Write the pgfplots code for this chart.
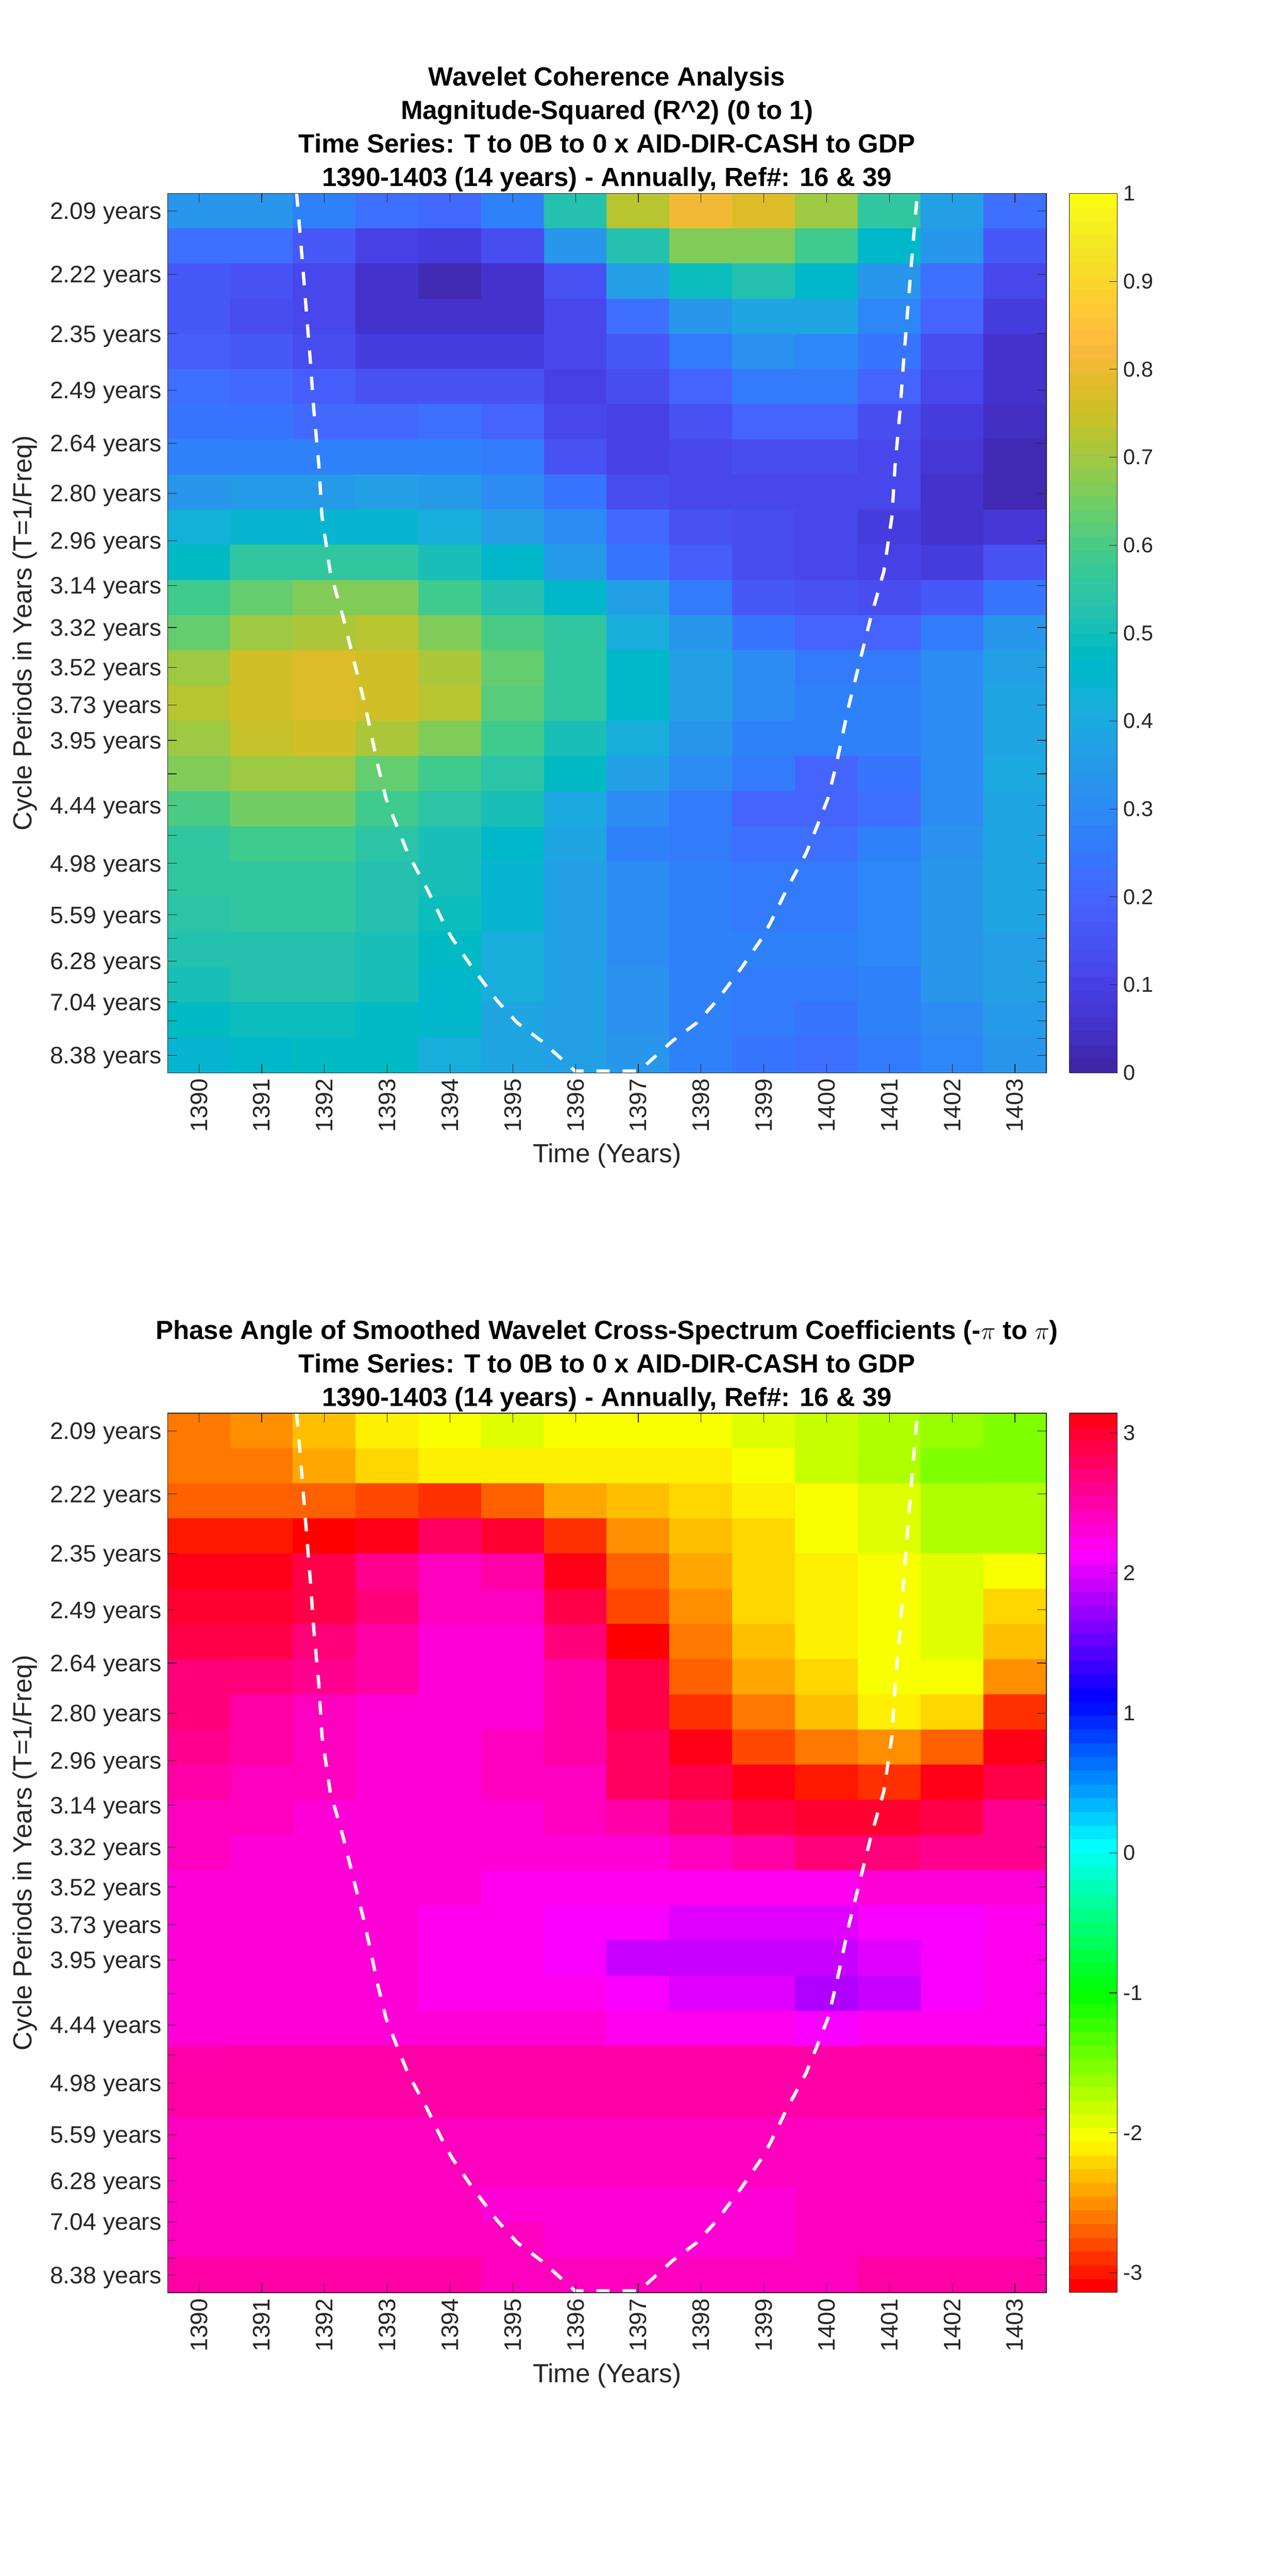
\documentclass[border=0pt]{standalone}
\usepackage{fontspec}
\setmainfont{Liberation Sans}
\usepackage{pgfplots}
\pgfplotsset{compat=1.18}
\usepackage{pgfplotstable}
\definecolor{axc}{gray}{0.15}
\pgfplotsset{
 colormap={parula64}{
rgb=(0.2422,0.1504,0.6603) rgb=(0.2504,0.1650,0.7076) rgb=(0.2578,0.1818,0.7511) rgb=(0.2647,0.1978,0.7952)
rgb=(0.2706,0.2147,0.8364) rgb=(0.2751,0.2342,0.8710) rgb=(0.2783,0.2559,0.8991) rgb=(0.2803,0.2782,0.9221)
rgb=(0.2813,0.3006,0.9414) rgb=(0.2810,0.3228,0.9579) rgb=(0.2795,0.3447,0.9717) rgb=(0.2760,0.3667,0.9829)
rgb=(0.2699,0.3892,0.9906) rgb=(0.2602,0.4123,0.9952) rgb=(0.2440,0.4358,0.9988) rgb=(0.2206,0.4603,0.9973)
rgb=(0.1963,0.4847,0.9892) rgb=(0.1834,0.5074,0.9798) rgb=(0.1786,0.5289,0.9682) rgb=(0.1764,0.5499,0.9520)
rgb=(0.1687,0.5703,0.9359) rgb=(0.1540,0.5902,0.9218) rgb=(0.1460,0.6091,0.9079) rgb=(0.1380,0.6276,0.8973)
rgb=(0.1248,0.6459,0.8883) rgb=(0.1113,0.6635,0.8763) rgb=(0.0952,0.6798,0.8598) rgb=(0.0689,0.6948,0.8394)
rgb=(0.0297,0.7082,0.8163) rgb=(0.0036,0.7203,0.7917) rgb=(0.0067,0.7312,0.7660) rgb=(0.0433,0.7411,0.7394)
rgb=(0.0964,0.7500,0.7120) rgb=(0.1408,0.7584,0.6842) rgb=(0.1717,0.7670,0.6554) rgb=(0.1938,0.7758,0.6251)
rgb=(0.2161,0.7843,0.5923) rgb=(0.2470,0.7918,0.5567) rgb=(0.2906,0.7973,0.5188) rgb=(0.3406,0.8008,0.4789)
rgb=(0.3909,0.8029,0.4354) rgb=(0.4456,0.8024,0.3909) rgb=(0.5044,0.7993,0.3480) rgb=(0.5616,0.7942,0.3045)
rgb=(0.6174,0.7876,0.2612) rgb=(0.6720,0.7793,0.2227) rgb=(0.7242,0.7698,0.1910) rgb=(0.7738,0.7598,0.1646)
rgb=(0.8203,0.7498,0.1535) rgb=(0.8634,0.7406,0.1596) rgb=(0.9035,0.7330,0.1774) rgb=(0.9393,0.7288,0.2100)
rgb=(0.9728,0.7298,0.2394) rgb=(0.9956,0.7434,0.2371) rgb=(0.9970,0.7659,0.2199) rgb=(0.9952,0.7893,0.2028)
rgb=(0.9892,0.8136,0.1885) rgb=(0.9786,0.8386,0.1766) rgb=(0.9676,0.8639,0.1643) rgb=(0.9610,0.8890,0.1537)
rgb=(0.9597,0.9135,0.1423) rgb=(0.9628,0.9373,0.1265) rgb=(0.9691,0.9606,0.1064) rgb=(0.9769,0.9839,0.0805)
 },
 colormap={hsvbase}{rgb(0pt)=(1,0,0) rgb(10.6667pt)=(1,1,0) rgb(21.3333pt)=(0,1,0) rgb(32pt)=(0,1,1) rgb(42.6667pt)=(0,0,1) rgb(53.3333pt)=(1,0,1) rgb(63pt)=(1,0,0.0938)},
 colormap={hsv64}{samples of colormap=(64 of hsvbase)},
 wavelet/.style={
  scale only axis, width=511.9pt, height=512.2pt, anchor=south west,
  xmin=1389.5, xmax=1403.5, ymin=0, ymax=25, y dir=reverse,
  axis on top, enlargelimits=false, colormap access=piecewise constant,
  tick align=inside, xtick pos=both, ytick pos=both, major tick length=5.3pt,
  axis line style={color=axc,line width=0.4pt}, tick style={color=axc,line width=0.35pt},
  xtick={1390,...,1403},
  xticklabels={1390,1391,1392,1393,1394,1395,1396,1397,1398,1399,1400,1401,1402,1403},
  xticklabel pos=lower, yticklabel pos=left,
  xticklabel style={rotate=90,anchor=east,font=\fontsize{13.9}{16}\selectfont,text=axc},
  yticklabel style={font=\fontsize{13.9}{16}\selectfont,text=axc,yshift=-1.5pt},
  ytick={0.5,2.296,3.991,5.591,7.102,8.527,9.873,11.143,12.341,13.473,14.541,15.549,16.5,17.398,18.246,19.046,19.801,20.513,21.186,21.821,22.421,22.986,23.52,24.024,24.5},
  yticklabels={2.09 years,2.22 years,2.35 years,2.49 years,2.64 years,2.80 years,2.96 years,3.14 years,3.32 years,3.52 years,3.73 years,3.95 years,{},4.44 years,{},4.98 years,{},5.59 years,{},6.28 years,{},7.04 years,{},{},8.38 years},
  xlabel={Time (Years)}, ylabel={Cycle Periods in Years (T=1/Freq)},
  xlabel style={at={(axis description cs:0.5,-0.0945)},anchor=center,font=\fontsize{15.3}{18}\selectfont,text=axc},
  ylabel style={at={(axis description cs:-0.1626,0.5)},anchor=center,rotate=0,font=\fontsize{15.3}{18}\selectfont,text=axc},
  title style={align=center,font=\fontsize{15.3}{19.5}\selectfont\bfseries,text=black,yshift=-8.6pt},
  colorbar, colorbar shift/.style={},
 },
 wcb/.style={
  at={(parent axis.north east)}, anchor=north west, xshift=13.44pt,
  width=27.84pt, height=512.2pt, tick align=inside, ytick pos=right, yticklabel pos=right,
  major tick length=4.8pt, axis line style={color=axc,line width=0.4pt}, tick style={color=axc,line width=0.35pt},
  yticklabel style={font=\fontsize{12.5}{15}\selectfont,text=axc},
 },
 coi/.style={white,line width=1.9pt,dash pattern=on 7.8pt off 7.5pt},
}
\pgfplotstableread{
x y
1391.556 0
1391.62 1.33
1391.71 3.32
1391.78 4.89
1391.83 6.15
1391.91 7.72
1391.96 9.18
1392.09 10.75
1392.30 12.07
1392.46 13.22
1392.65 14.58
1392.85 16.26
1392.98 17.2
1393.14 17.93
1393.33 18.77
1393.63 19.76
1393.90 20.75
1394.03 21.17
1394.35 22.0
1394.75 22.95
1395.07 23.58
1395.46 24.1
1395.99 24.95
1397.01 24.95
1397.54 24.1
1397.93 23.58
1398.25 22.95
1398.65 22.0
1398.97 21.17
1399.10 20.75
1399.37 19.76
1399.67 18.77
1399.86 17.93
1400.02 17.2
1400.15 16.26
1400.35 14.58
1400.54 13.22
1400.70 12.07
1400.91 10.75
1401.04 9.18
1401.09 7.72
1401.17 6.15
1401.22 4.89
1401.29 3.32
1401.38 1.33
1401.444 0
}\coitable
\begin{document}
\begin{tikzpicture}
\path[use as bounding box] (0,0) rectangle (750pt,1500.48pt);
\begin{axis}[wavelet, at={(97.6pt,875.6pt)},
 point meta min=0, point meta max=1, colormap name=parula64,
 colorbar style={wcb, ytick={0,0.1,...,1}, yticklabels={0,0.1,0.2,0.3,0.4,0.5,0.6,0.7,0.8,0.9,1}},
 title={Wavelet Coherence Analysis\\Magnitude-Squared (R\textasciicircum 2) (0 to 1)\\Time Series: T to 0B to 0 x AID-DIR-CASH to GDP\\1390-1403 (14 years) - Annually, Ref\#: 16 \& 39}]
\addplot[matrix plot*, mesh/cols=14, mesh/rows=25, point meta=explicit] table[row sep=\\, header=false, x expr={1390+round(mod(\coordindex+0.5,14)-0.5)}, y expr={floor((\coordindex+0.5)/14)+0.5}, meta index=0]{
.33\\.33\\.28\\.23\\.21\\.28\\.52\\.72\\.80\\.77\\.70\\.55\\.37\\.22\\
.22\\.22\\.17\\.10\\.08\\.13\\.33\\.53\\.67\\.67\\.58\\.46\\.33\\.16\\
.17\\.15\\.11\\.05\\.03\\.05\\.15\\.36\\.49\\.53\\.46\\.34\\.23\\.11\\
.16\\.14\\.11\\.06\\.06\\.06\\.12\\.23\\.34\\.38\\.38\\.29\\.19\\.09\\
.18\\.16\\.13\\.09\\.09\\.09\\.11\\.17\\.26\\.32\\.29\\.24\\.14\\.05\\
.22\\.21\\.18\\.15\\.15\\.15\\.10\\.13\\.19\\.25\\.25\\.20\\.12\\.06\\
.24\\.24\\.21\\.21\\.23\\.19\\.12\\.10\\.15\\.19\\.19\\.14\\.08\\.04\\
.28\\.28\\.27\\.27\\.27\\.25\\.15\\.10\\.12\\.14\\.14\\.11\\.07\\.02\\
.33\\.35\\.35\\.36\\.35\\.31\\.24\\.13\\.12\\.12\\.12\\.11\\.05\\.03\\
.43\\.44\\.44\\.44\\.42\\.37\\.30\\.21\\.15\\.13\\.11\\.09\\.05\\.07\\
.48\\.55\\.56\\.56\\.50\\.46\\.35\\.24\\.18\\.14\\.12\\.10\\.09\\.15\\
.58\\.64\\.66\\.66\\.58\\.53\\.46\\.36\\.25\\.17\\.15\\.13\\.17\\.24\\
.63\\.70\\.71\\.72\\.67\\.60\\.55\\.42\\.33\\.24\\.19\\.19\\.26\\.33\\
.70\\.76\\.78\\.75\\.71\\.64\\.56\\.46\\.36\\.30\\.26\\.26\\.30\\.37\\
.72\\.76\\.77\\.76\\.72\\.62\\.55\\.46\\.37\\.31\\.27\\.27\\.31\\.38\\
.70\\.74\\.75\\.71\\.66\\.58\\.51\\.41\\.34\\.28\\.28\\.27\\.31\\.39\\
.67\\.70\\.70\\.63\\.59\\.54\\.47\\.36\\.30\\.25\\.20\\.24\\.30\\.40\\
.60\\.65\\.65\\.58\\.54\\.50\\.40\\.31\\.25\\.20\\.20\\.22\\.30\\.38\\
.56\\.58\\.58\\.54\\.51\\.46\\.38\\.28\\.26\\.22\\.23\\.27\\.32\\.38\\
.55\\.56\\.56\\.52\\.50\\.45\\.37\\.30\\.27\\.25\\.26\\.29\\.33\\.39\\
.54\\.55\\.55\\.52\\.49\\.45\\.37\\.31\\.28\\.26\\.26\\.29\\.33\\.39\\
.52\\.53\\.53\\.51\\.48\\.42\\.37\\.31\\.28\\.27\\.27\\.29\\.33\\.37\\
.50\\.52\\.52\\.50\\.46\\.41\\.37\\.32\\.27\\.25\\.25\\.28\\.34\\.36\\
.48\\.49\\.49\\.48\\.46\\.39\\.36\\.32\\.28\\.25\\.24\\.27\\.30\\.35\\
.45\\.46\\.47\\.48\\.42\\.39\\.37\\.33\\.28\\.24\\.23\\.26\\.29\\.33\\
};
\addplot[coi] table {\coitable};
\end{axis}
\begin{axis}[wavelet, at={(97.6pt,165.1pt)},
 point meta min=-3.1416, point meta max=3.1416, colormap name=hsv64,
 colorbar style={wcb, ytick={-3,-2,-1,0,1,2,3}, yticklabels={-3,-2,-1,0,1,2,3}},
 title={Phase Angle of Smoothed Wavelet Cross-Spectrum Coefficients (-$\pi$ to $\pi$)\\Time Series: T to 0B to 0 x AID-DIR-CASH to GDP\\1390-1403 (14 years) - Annually, Ref\#: 16 \& 39}]
\addplot[matrix plot*, mesh/cols=14, mesh/rows=25, point meta=explicit] table[row sep=\\, header=false, x expr={1390+round(mod(\coordindex+0.5,14)-0.5)}, y expr={floor((\coordindex+0.5)/14)+0.5}, meta index=0]{
-2.57\\-2.48\\-2.31\\-2.13\\-2.0\\-1.9\\-2.0\\-2.0\\-2.0\\-1.87\\-1.81\\-1.73\\-1.59\\-1.52\\
-2.57\\-2.57\\-2.36\\-2.22\\-2.1\\-2.1\\-2.1\\-2.1\\-2.1\\-1.99\\-1.83\\-1.73\\-1.56\\-1.52\\
-2.71\\-2.71\\-2.67\\-2.78\\-2.86\\-2.67\\-2.39\\-2.31\\-2.22\\-2.08\\-2.0\\-1.87\\-1.7\\-1.7\\
-2.95\\-2.95\\-3.12\\3.05\\2.84\\2.96\\-2.92\\-2.51\\-2.31\\-2.22\\-2.0\\-1.9\\-1.76\\-1.76\\
3.05\\3.05\\2.85\\2.6\\2.41\\2.48\\3.12\\-2.71\\-2.41\\-2.24\\-2.11\\-2.0\\-1.87\\-1.97\\
3.03\\3.03\\2.85\\2.67\\2.41\\2.41\\2.93\\-2.83\\-2.5\\-2.24\\-2.11\\-2.0\\-1.87\\-2.22\\
2.93\\2.85\\2.74\\2.48\\2.32\\2.32\\2.67\\-3.12\\-2.6\\-2.31\\-2.11\\-2.0\\-1.87\\-2.32\\
2.74\\2.7\\2.6\\2.5\\2.34\\2.34\\2.55\\2.93\\-2.71\\-2.39\\-2.22\\-2.0\\-2.0\\-2.5\\
2.67\\2.53\\2.38\\2.34\\2.34\\2.34\\2.5\\2.85\\-2.9\\-2.6\\-2.31\\-2.11\\-2.24\\-2.9\\
2.6\\2.55\\2.41\\2.34\\2.34\\2.45\\2.5\\2.75\\3.05\\-2.78\\-2.6\\-2.5\\-2.67\\3.05\\
2.55\\2.38\\2.38\\2.34\\2.34\\2.45\\2.45\\2.75\\2.85\\3.1\\-3.0\\-2.85\\3.1\\2.85\\
2.43\\2.43\\2.34\\2.34\\2.34\\2.34\\2.43\\2.55\\2.65\\2.85\\2.95\\2.95\\2.9\\2.6\\
2.45\\2.34\\2.34\\2.34\\2.34\\2.34\\2.34\\2.34\\2.43\\2.55\\2.65\\2.71\\2.57\\2.57\\
2.34\\2.34\\2.34\\2.34\\2.34\\2.2\\2.2\\2.2\\2.2\\2.2\\2.2\\2.3\\2.3\\2.3\\
2.34\\2.34\\2.34\\2.34\\2.2\\2.2\\2.13\\2.13\\2.02\\2.02\\2.02\\2.11\\2.15\\2.17\\
2.34\\2.34\\2.34\\2.27\\2.2\\2.2\\2.13\\1.95\\1.95\\1.88\\1.88\\1.98\\2.11\\2.17\\
2.34\\2.34\\2.34\\2.34\\2.2\\2.2\\2.2\\2.13\\2.0\\2.0\\1.85\\1.95\\2.11\\2.17\\
2.34\\2.34\\2.34\\2.34\\2.34\\2.34\\2.34\\2.22\\2.22\\2.22\\2.11\\2.22\\2.22\\2.22\\
2.48\\2.48\\2.48\\2.48\\2.48\\2.48\\2.48\\2.48\\2.48\\2.48\\2.48\\2.48\\2.48\\2.48\\
2.48\\2.48\\2.48\\2.48\\2.48\\2.48\\2.48\\2.48\\2.48\\2.48\\2.48\\2.48\\2.48\\2.48\\
2.38\\2.38\\2.38\\2.38\\2.38\\2.38\\2.38\\2.38\\2.38\\2.38\\2.38\\2.38\\2.38\\2.38\\
2.38\\2.38\\2.38\\2.38\\2.38\\2.38\\2.38\\2.38\\2.38\\2.38\\2.38\\2.38\\2.38\\2.38\\
2.38\\2.38\\2.38\\2.38\\2.38\\2.27\\2.27\\2.27\\2.27\\2.27\\2.38\\2.38\\2.38\\2.38\\
2.38\\2.38\\2.38\\2.38\\2.38\\2.38\\2.27\\2.27\\2.27\\2.27\\2.38\\2.38\\2.38\\2.38\\
2.48\\2.48\\2.48\\2.48\\2.48\\2.41\\2.41\\2.41\\2.41\\2.41\\2.41\\2.48\\2.48\\2.48\\
};
\addplot[coi] table {\coitable};
\end{axis}
\end{tikzpicture}
\end{document}
